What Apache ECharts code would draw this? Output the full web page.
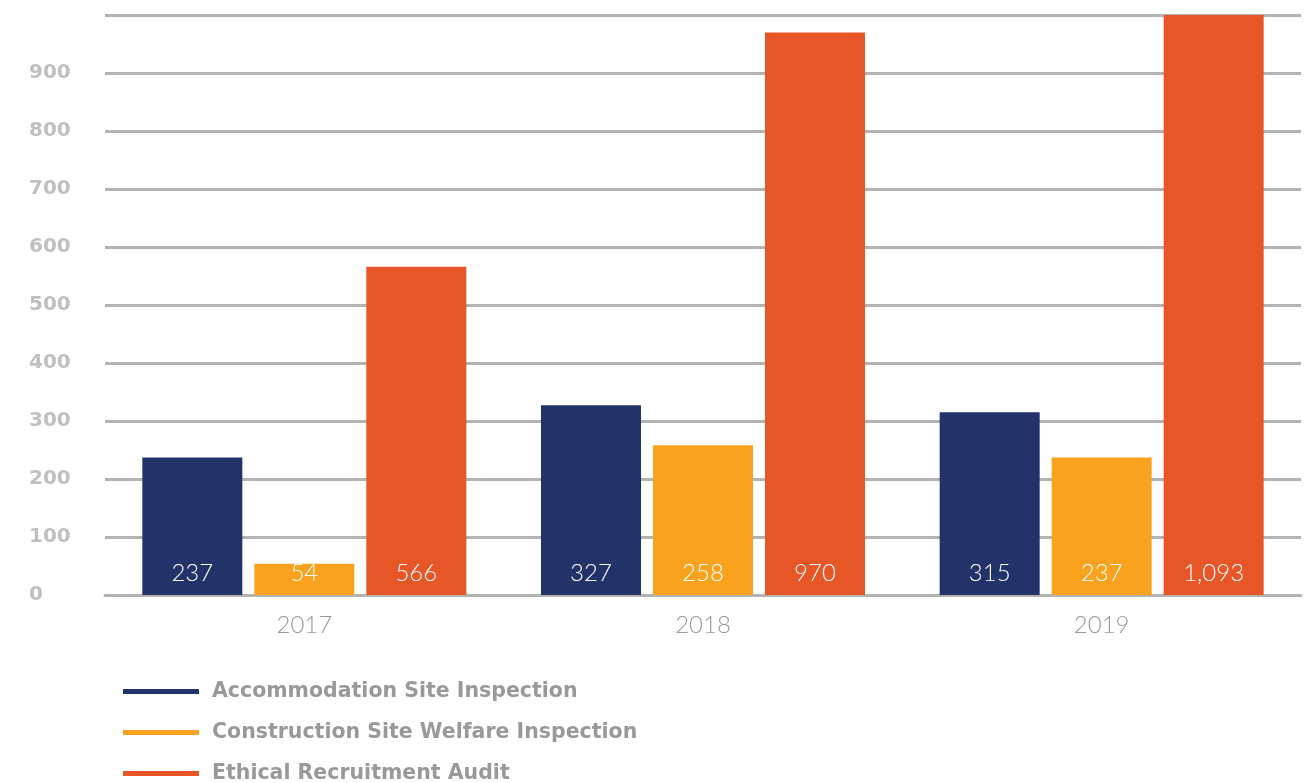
<!DOCTYPE html>
<html>
<head>
<meta charset="utf-8">
<script src="https://cdn.jsdelivr.net/npm/echarts@6/dist/echarts.min.js"></script>
<style>
  html, body { margin: 0; padding: 0; background: #fff; }
  #chart { width: 1309px; height: 783px; }
</style>
</head>
<body>
<div id="chart"></div>
<script>
var years = ['2017', '2018', '2019']
var accommodation = [237, 327, 315]
var construction = [54, 258, 237]
var ethical = [566, 970, 1093]
var yTicks = [0, 100, 200, 300, 400, 500, 600, 700, 800, 900]

var chart = echarts.init(document.getElementById('chart'))

function barLabel() {
  return {
    show: true,
    position: 'insideBottom',
    distance: 10,
    color: '#fff',
    fontSize: 24,
    fontFamily: 'Lato',
    fontWeight: 300,
    formatter: function (p) { return p.value.toLocaleString('en-US') }
  }
}

chart.setOption({
  animation: false,
  textStyle: { fontFamily: 'Lato' },
  grid: { left: 105, right: 8, top: 15, bottom: 188 },
  legend: {
    orient: 'vertical',
    left: 123,
    top: 681,
    height: 140,
    padding: 0,
    itemGap: 20,
    icon: 'rect',
    itemWidth: 76,
    itemHeight: 5,
    textStyle: { color: '#999', fontSize: 20.5, lineHeight: 20, fontWeight: 'bold', fontFamily: 'DejaVu Sans', padding: [0, 0, 0, 8] }
  },
  xAxis: {
    type: 'category',
    data: years,
    axisTick: { show: false },
    axisLine: { show: true, lineStyle: { color: '#b3b3b3', width: 3 } },
    axisLabel: { color: '#999', fontSize: 24, margin: 18, fontWeight: 300 }
  },
  yAxis: {
    type: 'value',
    min: 0,
    max: 1000,
    interval: 100,
    axisLine: { show: false },
    axisTick: { show: false },
    splitLine: { lineStyle: { color: '#b3b3b3', width: 3 } },
    axisLabel: {
      align: 'left',
      margin: 76,
      color: '#c0c0c0',
      fontSize: 20,
      fontWeight: 'bold',
      fontFamily: 'DejaVu Sans',
      formatter: function (v) { return yTicks.indexOf(v) >= 0 ? String(v) : '' }
    }
  },
  series: [
    { name: 'Accommodation Site Inspection', type: 'bar', data: accommodation, barWidth: 100, barGap: '12%', itemStyle: { color: '#223369' }, label: barLabel() },
    { name: 'Construction Site Welfare Inspection', type: 'bar', data: construction, barWidth: 100, barGap: '12%', itemStyle: { color: '#f8a21e' }, label: barLabel() },
    { name: 'Ethical Recruitment Audit', type: 'bar', data: ethical, barWidth: 100, barGap: '12%', itemStyle: { color: '#e75626' }, label: barLabel() }
  ]
})
</script>
</body>
</html>
